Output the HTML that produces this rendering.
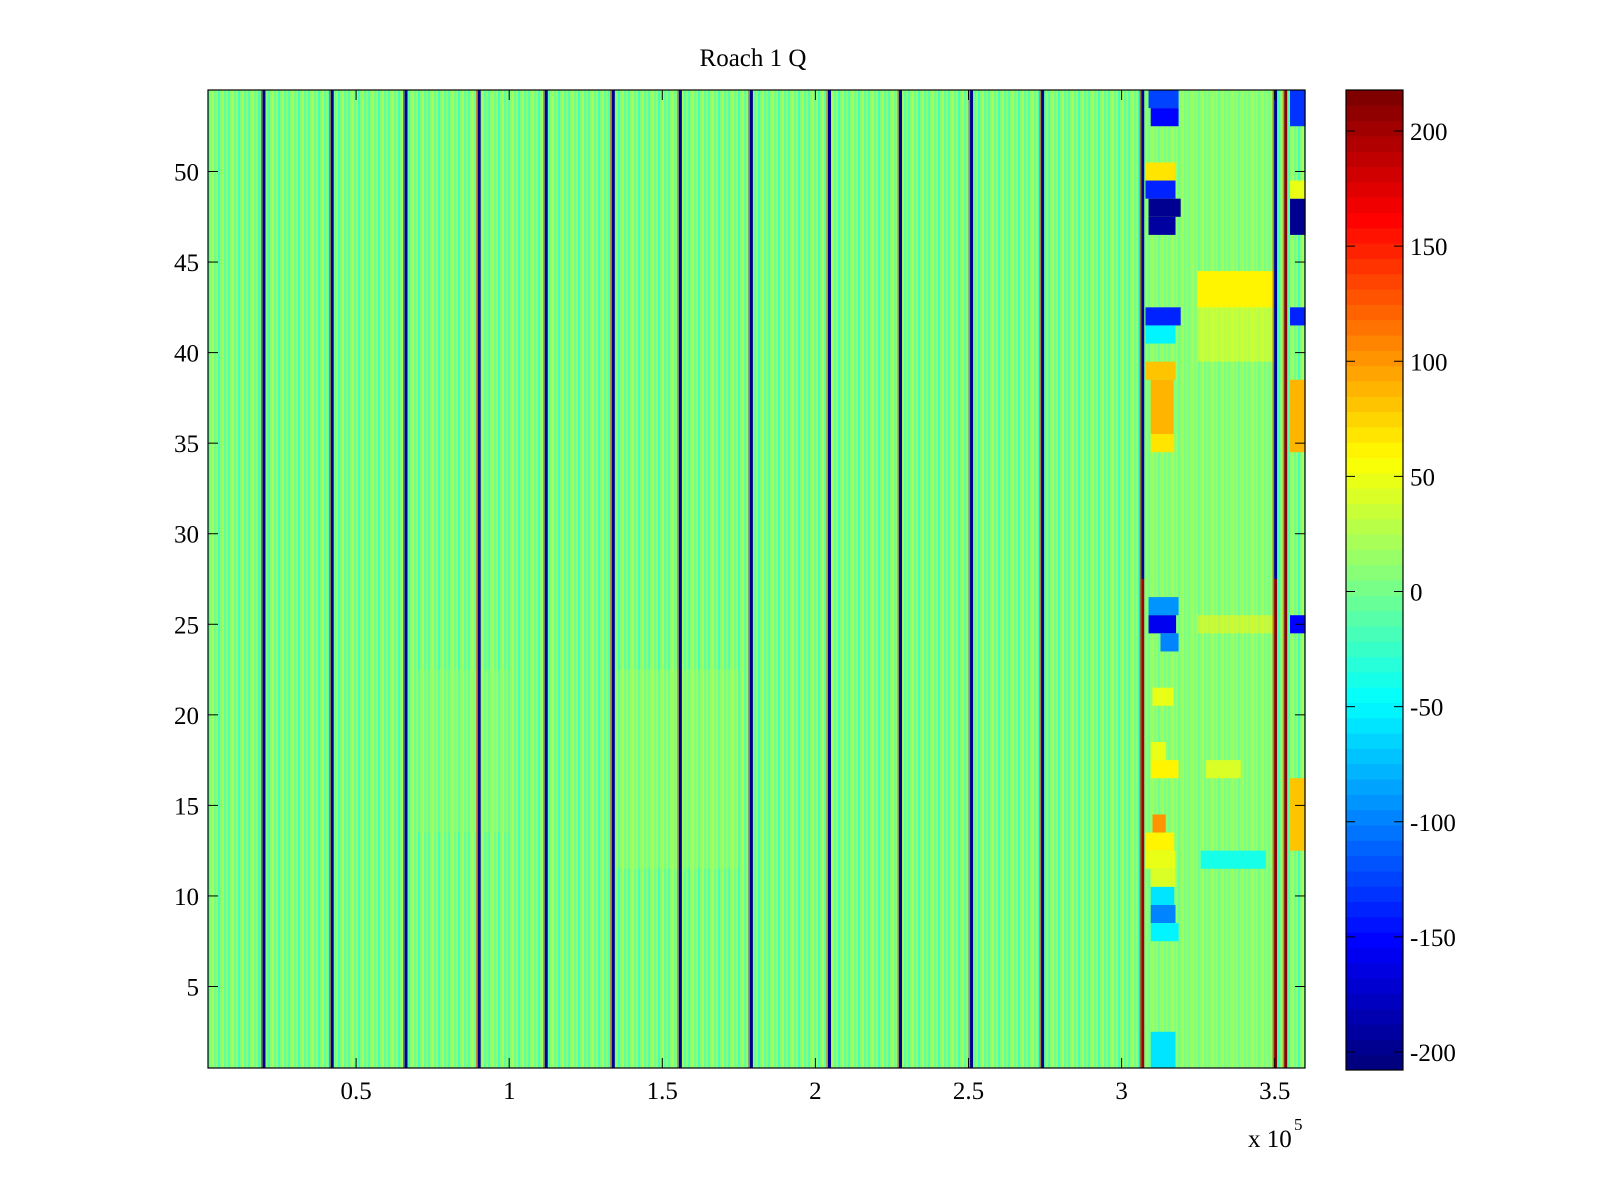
<!DOCTYPE html>
<html><head><meta charset="utf-8"><style>
html,body{margin:0;padding:0;background:#fff;}
svg{display:block;font-family:"Liberation Serif",serif;}
</style></head><body>
<svg id="chart" width="1600" height="1200" xmlns="http://www.w3.org/2000/svg">
<text x="753" y="66" font-size="25" text-anchor="middle">Roach 1 Q</text>
<g id="plot"></g>
<g id="cbar"></g>
</svg>
<script>
// ---- data ----
const xDomain = [0.016, 3.601];      // x in units of 1e5
const yDomain = [0.5, 54.5];
const cDomain = [-207.8, 217.8];
const baseValue = 3;
// texture stripes (value offsets for background columns)
const textureVals = [-30, 10, 35, -10, 20, -40, 5, 30, -20, 15];
// spike columns: x position (1e5), value upper half, value lower half
const spikeX   = [0.199,0.422,0.663,0.902,1.121,1.340,1.559,1.791,2.046,2.278,2.510,2.742,3.069,3.503,3.536];
const spikeTop = [-200,-200,-200,-200,-200,-200,-200,-200,-200,-200,-200,-200,-200,-200,210];
const spikeBot = [-200,-200,-200,-200,-200,-200,-200,-200,-200,-200,-200,-200,200,210,210];
const spikeRed = [180,170,190,160,170,180,170,180,170,170,160,190,210,200,150];
// tint blocks: x0, x1, rowStart, rowEnd, value
const blockX0 = [3.07,3.248,3.248,3.088,3.095,3.078,3.078,3.088,3.088,3.078,3.078,3.248,3.078,3.095,3.095,3.101,3.088,3.088,3.127,3.101,3.095,3.095,3.275,3.101,3.078,3.078,3.258,3.095,3.095,3.095,3.095,3.095,3.55,3.55,3.55,3.55,3.55,3.55,3.55,1.35,0.7];
const blockX1 = [3.50,3.497,3.497,3.186,3.186,3.176,3.176,3.193,3.176,3.193,3.176,3.497,3.176,3.170,3.172,3.170,3.186,3.178,3.186,3.144,3.144,3.186,3.389,3.144,3.172,3.176,3.471,3.176,3.172,3.176,3.186,3.176,3.601,3.601,3.601,3.601,3.601,3.601,3.601,1.75,1.0];
const blockR0 = [1,40,25,54,53,50,49,48,47,42,41,43,39,36,35,21,26,25,24,18,18,17,17,14,13,12,12,11,10,9,8,1,53,47,42,35,25,13,49,12,14];
const blockR1 = [54,44,25,54,53,50,49,48,47,42,41,44,39,38,35,21,26,25,24,18,18,17,17,14,13,12,12,11,10,9,8,2,54,48,42,38,25,16,49,22,22];
const blockV  = [12,55,60,-125,-150,70,-140,-200,-190,-140,-50,60,80,90,70,50,-90,-160,-100,45,45,60,40,100,60,45,-40,40,-60,-100,-50,-60,-130,-200,-140,90,-150,80,50,22,18];
const xTicks = [0.5,1,1.5,2,2.5,3,3.5];
const xTickLabels = ["0.5","1","1.5","2","2.5","3","3.5"];
const yTicks = [5,10,15,20,25,30,35,40,45,50];
const yTickLabels = ["5","10","15","20","25","30","35","40","45","50"];
const cTicks = [-200,-150,-100,-50,0,50,100,150,200];
const cTickLabels = ["-200","-150","-100","-50","0","50","100","150","200"];

// ---- geometry ----
const L=208,R=1305,T=90,B=1068;
const CB={l:1346,r:1403,t:90,b:1070};
const xs = v => 203 + (v)*306.2;
const ys = v => B - (v - yDomain[0])/(yDomain[1]-yDomain[0])*(B-T);
const cs = v => CB.b - (v - cDomain[0])/(cDomain[1]-cDomain[0])*(CB.b-CB.t);
function clamp(a){return Math.max(0,Math.min(1,a));}
function jet(v){
  let i=Math.floor((v-cDomain[0])/(cDomain[1]-cDomain[0])*64); i=Math.max(0,Math.min(63,i));
  const x=i/63;
  const r=clamp(1.5-Math.abs(4*x-3)), g=clamp(1.5-Math.abs(4*x-2)), b=clamp(1.5-Math.abs(4*x-1));
  return `rgb(${Math.round(r*255)},${Math.round(g*255)},${Math.round(b*255)})`;
}
const NS="http://www.w3.org/2000/svg";
function mk(tag,attrs,parent){const e=document.createElementNS(NS,tag);for(const k in attrs)e.setAttribute(k,attrs[k]);parent.appendChild(e);return e;}
const plot=document.getElementById('plot'), cbar=document.getElementById('cbar');

// background + texture
const defs=mk('defs',{},plot);
const pat=mk('pattern',{id:'tex',width:textureVals.length*2,height:18.11,patternUnits:'userSpaceOnUse',x:L,y:B},defs);
textureVals.forEach((v,i)=>{mk('rect',{x:i*2,y:0,width:2,height:18.11,fill:jet(baseValue+v)},pat);});
const bg=mk('rect',{x:L,y:T,width:R-L,height:B-T,fill:jet(baseValue)},plot);


const tx=mk('rect',{x:L,y:T,width:R-L,height:B-T,fill:'url(#tex)',opacity:0.55},plot);



// blocks
blockV.forEach((v,i)=>{
  const x0=xs(blockX0[i]), x1=xs(blockX1[i]);
  const y0=ys(blockR1[i]+0.5), y1=ys(blockR0[i]-0.5);
  const op = (i<3) ? 0.5 : (i>=39 ? 0.35 : 1);
  const r=mk('rect',{x:x0,y:y0,width:x1-x0,height:y1-y0,fill:jet(v),opacity:op},plot);
  
  
});
// spikes
spikeX.forEach((sx,i)=>{
  const x=xs(sx), ym=ys(27.5);
  const a=mk('rect',{x:x-1.5,y:T,width:3,height:ym-T,fill:jet(spikeTop[i])},plot);
  
  
  const b=mk('rect',{x:x-1.5,y:ym,width:3,height:B-ym,fill:jet(spikeBot[i])},plot);
  
  
  const c=mk('rect',{x:x-3,y:T,width:1.2,height:B-T,fill:jet(spikeRed[i]),opacity:0.6},plot);
  
  
});
// frame
const fr=mk('rect',{x:L,y:T,width:R-L,height:B-T,fill:'none',stroke:'#000','stroke-width':1.2},plot);


// x ticks
xTicks.forEach((t,i)=>{
  const x=xs(t);
  mk('line',{x1:x,x2:x,y1:B,y2:B-10,stroke:'#000'},plot);
  mk('line',{x1:x,x2:x,y1:T,y2:T+10,stroke:'#000'},plot);
  const tl=mk('text',{x:x,y:1099,'font-size':25,'text-anchor':'middle'},plot);
  tl.textContent=xTickLabels[i];
  
  
});
yTicks.forEach((t,i)=>{
  const y=ys(t);
  mk('line',{x1:L,x2:L+10,y1:y,y2:y,stroke:'#000'},plot);
  mk('line',{x1:R,x2:R-10,y1:y,y2:y,stroke:'#000'},plot);
  const tl=mk('text',{x:199,y:y+9,'font-size':25,'text-anchor':'end'},plot);
  tl.textContent=yTickLabels[i];
  
  
});
const ex=mk('text',{x:1248,y:1147,'font-size':25},plot);
ex.textContent='x 10';


const ex5=mk('text',{x:1294,y:1130,'font-size':17},plot);
ex5.textContent='5';



// colorbar
for(let i=0;i<64;i++){
  const v0=cDomain[0]+(cDomain[1]-cDomain[0])*i/64, v1=cDomain[0]+(cDomain[1]-cDomain[0])*(i+1)/64;
  const r=mk('rect',{x:CB.l,y:cs(v1),width:CB.r-CB.l,height:cs(v0)-cs(v1)+0.5,fill:jet((v0+v1)/2)},cbar);
  
  
}
mk('rect',{x:CB.l,y:CB.t,width:CB.r-CB.l,height:CB.b-CB.t,fill:'none',stroke:'#000','stroke-width':1.2},cbar);
cTicks.forEach((t,i)=>{
  const y=cs(t);
  mk('line',{x1:CB.l,x2:CB.l+9,y1:y,y2:y,stroke:'#000'},cbar);
  mk('line',{x1:CB.r,x2:CB.r-9,y1:y,y2:y,stroke:'#000'},cbar);
  const tl=mk('text',{x:1410,y:y+9,'font-size':25},cbar);
  tl.textContent=cTickLabels[i];
  
  
});
</script>
</body></html>
